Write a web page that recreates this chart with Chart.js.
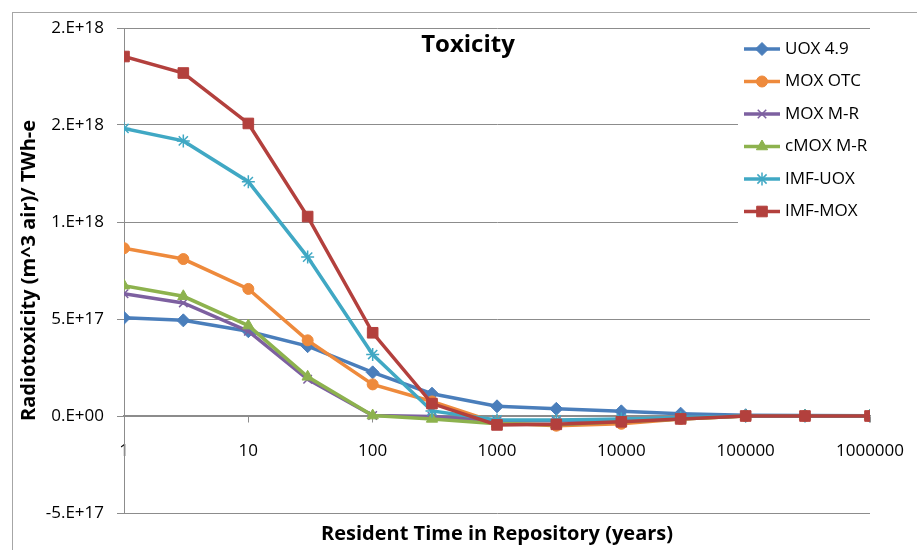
<!DOCTYPE html>
<html><head><meta charset="utf-8">
<script src="https://cdn.jsdelivr.net/npm/chart.js@4.4.1/dist/chart.umd.min.js"></script>
<style>html,body{margin:0;padding:0;background:#fff}#wrap{width:917px;height:550px;position:relative}</style>
</head><body><div id="wrap"><canvas id="c" width="917" height="550"></canvas></div>
<script>
// ---- data ----
const years = [1, 3, 10, 30, 100, 300, 1000, 3000, 10000, 30000, 100000, 300000, 1000000];
const seriesNames = ["UOX 4.9", "MOX OTC", "MOX M-R", "cMOX M-R", "IMF-UOX", "IMF-MOX"];
const uox49  = [5.06e17, 4.93e17, 4.37e17, 3.6e17, 2.25e17, 1.15e17, 5.0e16, 3.7e16, 2.4e16, 1.2e16, 4e15, 2e15, 1e15];
const moxOtc = [8.65e17, 8.09e17, 6.55e17, 3.9e17, 1.63e17, 7.5e16, -3.5e16, -5e16, -4e16, -1.5e16, 0, 0, 0];
const moxMR  = [6.3e17, 5.83e17, 4.37e17, 1.89e17, 3e15, -3e15, -2.5e16, -2.5e16, -2e16, -1e16, 0, 0, 0];
const cmoxMR = [6.72e17, 6.17e17, 4.66e17, 2.02e17, 2e15, -1.5e16, -4e16, -4.5e16, -3e16, -1.5e16, 0, 0, 0];
const imfUox = [1.482e18, 1.418e18, 1.208e18, 8.19e17, 3.17e17, 2.6e16, -2e16, -2e16, -1.5e16, -8e15, 0, 0, 0];
const imfMox = [1.853e18, 1.768e18, 1.508e18, 1.028e18, 4.29e17, 6.4e16, -4.6e16, -4.3e16, -3e16, -1.5e16, 0, 0, 0];
const yTickLabels = ["-5.E+17", "0.E+00", "5.E+17", "1.E+18", "2.E+18", "2.E+18"];
const xTickLabels = ["1", "10", "100", "1000", "10000", "100000", "1000000"];
const chartTitle = "Toxicity";
const xTitle = "Resident Time in Repository (years)";
const yTitle = "Radiotoxicity (m^3 air)/ TWh-e";

// ---- styles ----
const FONT = "'Open Sans', Lato, sans-serif";
const colors = ["#4A7EBB", "#EE8A3C", "#7D60A0", "#8DB24E", "#40A8C4", "#B3403D"];
const styles = [
  {pointStyle: "rectRot", radius: 6.5, bw: 1},
  {pointStyle: "circle", radius: 5.5, bw: 1},
  {pointStyle: "crossRot", radius: 6, bw: 1.5},
  {pointStyle: "triangle", radius: 6.5, bw: 1},
  {pointStyle: "star", radius: 6.5, bw: 1.5},
  {pointStyle: "rect", radius: 7.5, bw: 1}
];
const seriesValues = [uox49, moxOtc, moxMR, cmoxMR, imfUox, imfMox];

const datasets = seriesValues.map((vals, i) => ({
  label: seriesNames[i],
  data: years.map((x, j) => ({x: x, y: vals[j]})),
  borderColor: colors[i],
  backgroundColor: colors[i],
  borderWidth: 3.5,
  pointStyle: styles[i].pointStyle,
  pointRadius: styles[i].radius,
  pointBorderWidth: styles[i].bw,
  pointBackgroundColor: colors[i],
  pointBorderColor: colors[i],
  tension: 0,
  order: 6 - i
}));

const frame = {
  id: "frame",
  beforeDraw(chart) {
    const ctx = chart.ctx;
    ctx.save();
    ctx.fillStyle = "#fff";
    ctx.fillRect(0, 0, chart.width, chart.height);
    ctx.strokeStyle = "#a6a6a6";
    ctx.lineWidth = 1;
    ctx.strokeRect(12.5, 12.5, chart.width + 20, chart.height + 20);
    ctx.restore();
  },
  afterDraw(chart) {
    const ctx = chart.ctx;
    ctx.save();
    // title
    ctx.fillStyle = "#000";
    ctx.font = "bold 24px " + FONT;
    ctx.textAlign = "center";
    ctx.textBaseline = "middle";
    ctx.fillText(chartTitle, 468, 45);
    // legend
    ctx.fillStyle = "#fff";
    ctx.fillRect(738, 33, 200, 199);
    const ys = [49, 81.5, 114, 146.5, 179, 211.5];
    seriesNames.forEach((name, i) => {
      const y = ys[i];
      ctx.strokeStyle = colors[i];
      ctx.lineWidth = 3.5;
      ctx.beginPath(); ctx.moveTo(744, y); ctx.lineTo(780, y); ctx.stroke();
      ctx.fillStyle = colors[i];
      ctx.lineWidth = styles[i].bw;
      if (Chart.helpers && Chart.helpers.drawPoint) {
        Chart.helpers.drawPoint(ctx, {pointStyle: styles[i].pointStyle, radius: styles[i].radius, rotation: 0, borderWidth: styles[i].bw}, 762, y);
      }
      ctx.fillStyle = "#000";
      ctx.font = "17px " + FONT;
      ctx.textAlign = "left";
      ctx.textBaseline = "middle";
      ctx.fillText(name, 785, y);
    });
    ctx.restore();
  }
};

new Chart(document.getElementById("c"), {
  type: "line",
  data: {datasets},
  plugins: [frame],
  options: {
    responsive: false,
    animation: false,
    devicePixelRatio: 1,
    layout: {padding: {left: 12, top: 28, right: 47, bottom: 0}},
    plugins: {
      legend: {display: false},
      tooltip: {enabled: false},
      title: {
        display: true, text: xTitle, position: "bottom", fullSize: false,
        color: "#000", font: {family: FONT, size: 20, weight: "bold"},
        padding: {top: 9, bottom: 4}
      }
    },
    scales: {
      x: {
        type: "logarithmic", min: 1, max: 1e6,
        position: {y: 0},
        afterFit(s) { s.paddingLeft = 0; s.paddingRight = 0; },
        ticks: {
          autoSkip: false, maxRotation: 0, padding: 19, color: "#000",
          font: {family: FONT, size: 17},
          callback(v) {
            const e = Math.log10(v); const r = Math.round(e);
            return Math.abs(e - r) < 1e-9 ? xTickLabels[r] : null;
          }
        },
        grid: {drawOnChartArea: false, drawTicks: true, tickLength: 6, color: "#8c8c8c"},
        border: {display: true, color: "#8c8c8c", width: 1.5}
      },
      y: {
        type: "linear", min: -5e17, max: 2e18,
        z: -1,
        afterFit(s) { s.width = 112; },
        ticks: {
          stepSize: 5e17, padding: 13, color: "#000",
          font: {family: FONT, size: 17},
          callback(v) { return yTickLabels[Math.round((v + 5e17) / 5e17)]; }
        },
        grid: {color: "#8c8c8c", lineWidth: 1, tickLength: 7},
        border: {display: true, color: "#8c8c8c", width: 1},
        title: {
          display: true, text: yTitle, color: "#000",
          font: {family: FONT, size: 20, weight: "bold"},
          padding: {top: 5, bottom: 0}
        }
      }
    }
  }
});
</script></body></html>
